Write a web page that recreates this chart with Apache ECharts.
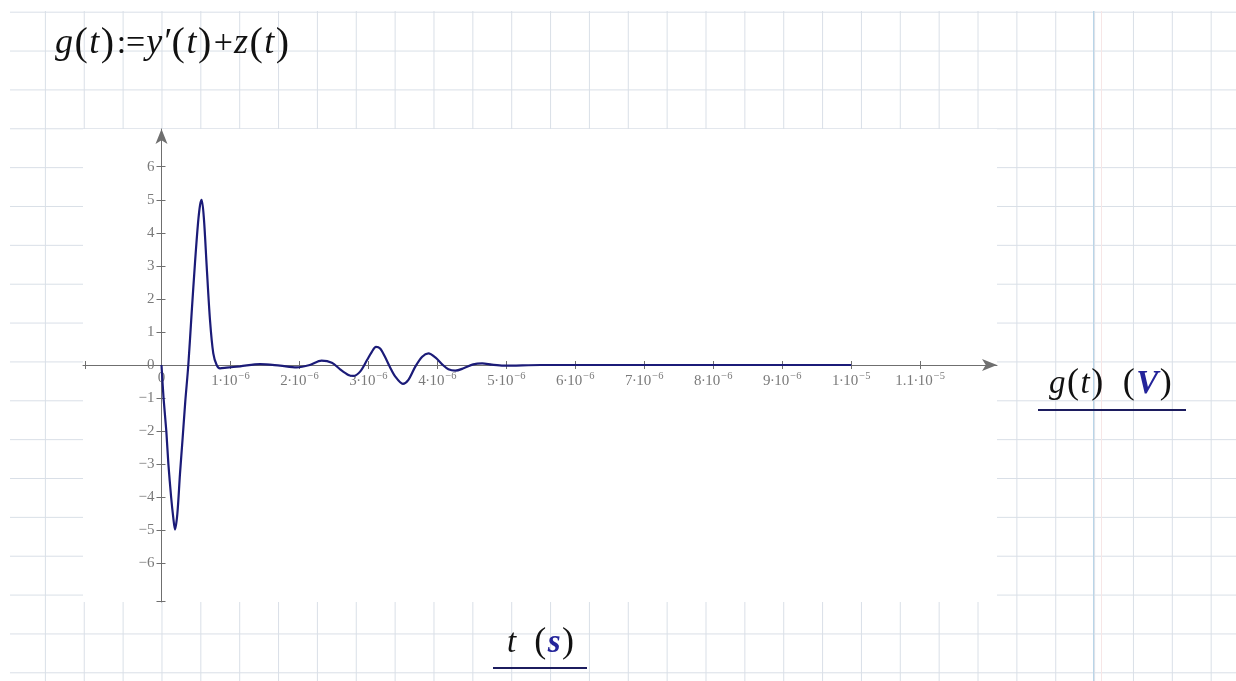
<!DOCTYPE html>
<html>
<head>
<meta charset="utf-8">
<script src="https://cdn.jsdelivr.net/npm/echarts@6/dist/echarts.min.js"></script>
<style>
html, body { margin: 0; padding: 0; background: #fff; }
#wrap { position: relative; width: 1236px; height: 681px; overflow: hidden; background: #fff; }
#paper {
  position: absolute; left: 10px; top: 11px; right: 0; bottom: 0;
  background-image:
    linear-gradient(to right, #d9dfe7 1px, transparent 1px),
    linear-gradient(to bottom, #d9dfe7 1px, transparent 1px);
  background-size: 38.87px 38.87px, 38.87px 38.87px;
  background-position: 34.9px 0px, 0px 0.7px;
}
#major { position: absolute; left: 1093px; top: 11px; bottom: 0; width: 1px; background: #b9d5e8; }
#margin { position: absolute; left: 1101px; top: 11px; bottom: 0; width: 1px; background: #f7e6e6; }
#chart { position: absolute; left: 0; top: 0; width: 1236px; height: 681px; }
</style>
</head>
<body>
<div id="wrap">
  <div id="paper"></div>
  <div id="major"></div>
  <div id="margin"></div>
  <div id="chart"></div>
</div>
<script>
// ---- data (time in microseconds, g in volts) ----
const tMicro = [0, 0.03, 0.07, 0.10, 0.14, 0.17, 0.196, 0.23, 0.268, 0.307, 0.345, 0.389,
  0.438, 0.486, 0.53, 0.56, 0.583, 0.616, 0.655, 0.703, 0.751, 0.80, 0.848, 0.945,
  1.14, 1.43, 1.72, 1.96, 2.15, 2.32, 2.47, 2.59, 2.71, 2.78, 2.88, 2.98, 3.05,
  3.11, 3.17, 3.24, 3.31, 3.39, 3.50, 3.58, 3.68, 3.78, 3.87, 3.97, 4.08, 4.16,
  4.26, 4.38, 4.52, 4.65, 4.79, 4.96, 5.5, 6.0, 7.0, 8.0, 9.0, 10.0];
const gVolts = [0, -1.0, -2.0, -3.0, -4.0, -4.6, -4.98, -4.5, -3.3, -2.2, -1.1, 0,
  1.6, 3.1, 4.3, 4.85, 5.0, 4.4, 3.0, 1.37, 0.35, 0, -0.1, -0.08,
  -0.04, 0.03, -0.02, -0.07, 0, 0.13, 0.07, -0.13, -0.30, -0.33, -0.2, 0.15, 0.40,
  0.55, 0.50, 0.25, -0.05, -0.35, -0.57, -0.45, -0.05, 0.25, 0.35, 0.23, 0, -0.13,
  -0.17, -0.10, 0.02, 0.05, 0.01, -0.02, 0, 0, 0, 0, 0, 0];

// ---- tick labels ----
const xLabelValues = [0, 1, 2, 3, 4, 5, 6, 7, 8, 9, 10, 11];
const xLabelMantissa = ['0', '1', '2', '3', '4', '5', '6', '7', '8', '9', '1', '1.1'];
const xLabelExponent = ['', '−6', '−6', '−6', '−6', '−6', '−6', '−6', '−6', '−6', '−5', '−5'];
const xTickValues = [-1.1, 0, 1, 2, 3, 4, 5, 6, 7, 8, 9, 10, 11];
const yLabelValues = [-6, -5, -4, -3, -2, -1, 0, 1, 2, 3, 4, 5, 6];
const yLabelTexts = ['−6', '−5', '−4', '−3', '−2', '−1', '0', '1', '2', '3', '4', '5', '6'];
const yTickValues = [-7.15, -6, -5, -4, -3, -2, -1, 0, 1, 2, 3, 4, 5, 6];

const X_MIN = -1.138, X_MAX = 12.114, Y_MIN = -7.17, Y_MAX = 7.141;

const seriesData = tMicro.map((t, i) => [t, gVolts[i]]);

// layout of the plot box
const G_LEFT = 83, G_RIGHT = 239, G_TOP = 129, G_BOTTOM = 79, W = 1236, H = 681;
const gW = W - G_LEFT - G_RIGHT, gH = H - G_TOP - G_BOTTOM;
// pixel location of the zero lines (so the axes cross at the origin)
const zeroX = G_LEFT + (0 - X_MIN) / (X_MAX - X_MIN) * gW;
const zeroY = G_TOP + (Y_MAX - 0) / (Y_MAX - Y_MIN) * gH;
const offBottom = -((G_TOP + gH) - zeroY);
const offLeft = -(zeroX - G_LEFT);

const AX = '#6f6f6f';
const LBL = '#7a7a7a';
const SERIF = '"Liberation Serif", "DejaVu Serif", serif';

const chart = echarts.init(document.getElementById('chart'), null, { renderer: 'canvas' });

function xFmt(v) {
  const i = xLabelValues.indexOf(Math.round(v));
  if (i < 0) return '';
  if (!xLabelExponent[i]) return '{m|' + xLabelMantissa[i] + '}';
  return '{m|' + xLabelMantissa[i] + '∙10}{e|' + xLabelExponent[i] + '}';
}
function yFmt(v) {
  const i = yLabelValues.indexOf(Math.round(v));
  return i < 0 ? '' : yLabelTexts[i];
}

const option = {
  backgroundColor: 'transparent',
  animation: false,
  grid: { left: G_LEFT, right: G_RIGHT, top: G_TOP, bottom: G_BOTTOM, show: true, backgroundColor: '#ffffff', borderWidth: 0 },
  xAxis: [
    {
      type: 'value', min: X_MIN, max: X_MAX, position: 'bottom', offset: offBottom,
      axisLine: { onZero: false, lineStyle: { color: AX, width: 1 }, symbol: ['none', 'arrow'], symbolSize: [9, 15] },
      axisTick: { show: true, customValues: xTickValues, length: 4, lineStyle: { color: AX } },
      axisLabel: {
        show: true, customValues: xLabelValues, formatter: xFmt, margin: 6, hideOverlap: false,
        rich: {
          m: { fontFamily: SERIF, fontSize: 15, color: LBL },
          e: { fontFamily: SERIF, fontSize: 10.5, color: LBL, padding: [0, 0, 9, 1] }
        }
      },
      splitLine: { show: false }
    },
    {
      type: 'value', min: X_MIN, max: X_MAX, position: 'bottom', offset: offBottom,
      axisLine: { onZero: false, show: false },
      axisTick: { show: true, inside: true, customValues: xTickValues, length: 4, lineStyle: { color: AX } },
      axisLabel: { show: false },
      splitLine: { show: false }
    }
  ],
  yAxis: [
    {
      type: 'value', min: Y_MIN, max: Y_MAX, position: 'left', offset: offLeft,
      axisLine: { onZero: false, lineStyle: { color: AX, width: 1 }, symbol: ['none', 'arrow'], symbolSize: [9, 15] },
      axisTick: { show: true, customValues: yTickValues, length: 5, lineStyle: { color: AX } },
      axisLabel: {
        show: true, customValues: yLabelValues, formatter: yFmt, margin: 7, hideOverlap: false,
        fontFamily: SERIF, fontSize: 15, color: LBL
      },
      splitLine: { show: false }
    },
    {
      type: 'value', min: Y_MIN, max: Y_MAX, position: 'left', offset: offLeft,
      axisLine: { onZero: false, show: false },
      axisTick: { show: true, inside: true, customValues: yTickValues, length: 4, lineStyle: { color: AX } },
      axisLabel: { show: false },
      splitLine: { show: false }
    }
  ],
  series: [{
    type: 'line', xAxisIndex: 0, yAxisIndex: 0,
    data: seriesData, showSymbol: false, smooth: 0.3,
    lineStyle: { color: '#1b1b78', width: 2.2 },
    z: 5
  }],
  graphic: [
    {
      type: 'text', x: 55, y: 44,
      style: {
        text: '{i|g}{p|(}{i|t}{p|)}{o|:=}{i|y′}{p|(}{i|t}{p|)}{o|+}{i|z}{p|(}{i|t}{p|)}',
        verticalAlign: 'middle',
        rich: {
          i: { fontFamily: SERIF, fontStyle: 'italic', fontSize: 36, fill: '#111' },
          p: { fontFamily: SERIF, fontSize: 40, fill: '#111', padding: [0, 1.5, 0, 1.5] },
          o: { fontFamily: SERIF, fontSize: 34, fill: '#111', padding: [0, 1, 0, 1] }
        }
      }
    },
    {
      type: 'text', x: 1049, y: 384,
      style: {
        text: '{i|g}{p|(}{i|t}{p|)}{s|  }{p|(}{v|V}{p|)}',
        verticalAlign: 'middle',
        rich: {
          i: { fontFamily: SERIF, fontStyle: 'italic', fontSize: 33, fill: '#111' },
          v: { fontFamily: SERIF, fontStyle: 'italic', fontWeight: 'bold', fontSize: 33, fill: '#24249a' },
          p: { fontFamily: SERIF, fontSize: 36, fill: '#111', padding: [0, 1.5, 0, 1.5] },
          s: { fontFamily: SERIF, fontSize: 33 }
        }
      }
    },
    { type: 'line', shape: { x1: 1038, y1: 410, x2: 1186, y2: 410 }, style: { stroke: '#1c1c5e', lineWidth: 2 } },
    {
      type: 'text', x: 507, y: 643,
      style: {
        text: '{i|t}{s|  }{p|(}{v|s}{p|)}',
        verticalAlign: 'middle',
        rich: {
          i: { fontFamily: SERIF, fontStyle: 'italic', fontSize: 33, fill: '#111' },
          v: { fontFamily: SERIF, fontStyle: 'italic', fontWeight: 'bold', fontSize: 33, fill: '#24249a' },
          p: { fontFamily: SERIF, fontSize: 36, fill: '#111', padding: [0, 1.5, 0, 1.5] },
          s: { fontFamily: SERIF, fontSize: 33 }
        }
      }
    },
    { type: 'line', shape: { x1: 493, y1: 668, x2: 587, y2: 668 }, style: { stroke: '#1c1c5e', lineWidth: 2 } }
  ]
};
chart.setOption(option);
</script>
</body>
</html>
